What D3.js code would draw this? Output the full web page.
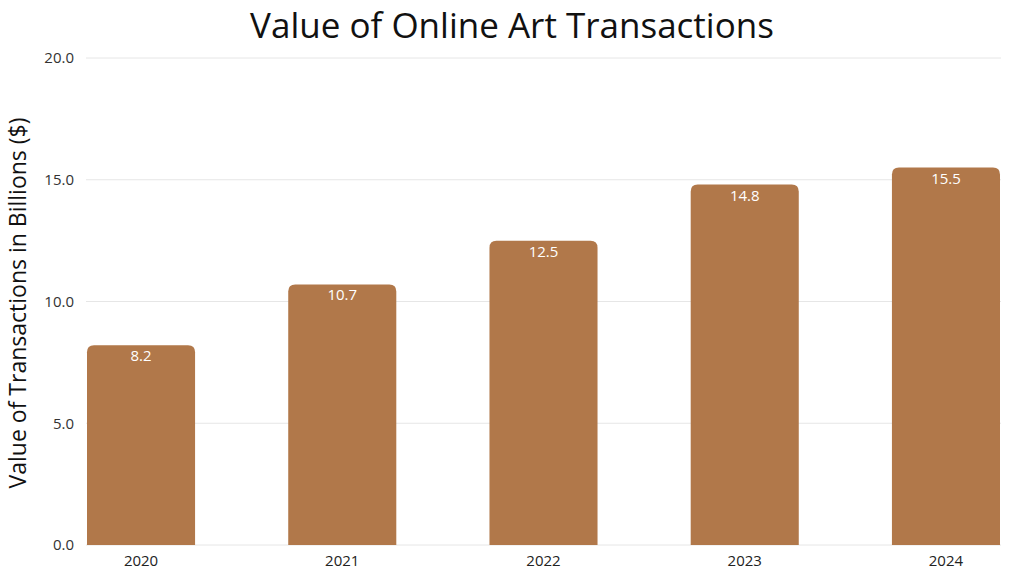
<!DOCTYPE html>
<html><head><meta charset="utf-8">
<script src="https://cdn.jsdelivr.net/npm/d3@7"></script>
<style>body{margin:0;background:#fff}svg{display:block;font-family:"Open Sans",Lato,sans-serif}</style>
</head><body><svg id="c" width="1024" height="576"></svg>
<script>
const years = ["2020","2021","2022","2023","2024"];
const values = [8.2, 10.7, 12.5, 14.8, 15.5];
const yTicks = [0, 5, 10, 15, 20];
const title = "Value of Online Art Transactions";
const yTitle = "Value of Transactions in Billions ($)";

const svg = d3.select("#c");
const m = {l: 86, r: 1001, t: 58, b: 545};
const x = d3.scaleBand().domain(years).range([m.l + 1, m.r - 1]).paddingInner(0.463).paddingOuter(0);
const y = d3.scaleLinear().domain([0, 20]).range([m.b, m.t]);

// grid
svg.append("g").selectAll("line").data(yTicks).join("line")
  .attr("x1", m.l).attr("x2", m.r).attr("y1", d => y(d)).attr("y2", d => y(d))
  .attr("stroke", "#e6e6e6").attr("stroke-width", 1);

// y labels
svg.append("g").selectAll("text").data(yTicks).join("text")
  .attr("x", 74).attr("y", d => y(d)).attr("dy", "0.35em").attr("text-anchor", "end")
  .attr("font-size", 15).attr("fill", "#333").text(d => d.toFixed(1));

// bars with rounded top corners
const r = 7;
svg.append("g").selectAll("path").data(values).join("path")
  .attr("fill", "#b1784a")
  .attr("d", (d, i) => {
    const x0 = x(years[i]), w = x.bandwidth(), y0 = y(d), yb = y(0);
    return `M${x0},${yb}V${y0 + r}Q${x0},${y0} ${x0 + r},${y0}H${x0 + w - r}Q${x0 + w},${y0} ${x0 + w},${y0 + r}V${yb}Z`;
  });

// value labels
svg.append("g").selectAll("text").data(values).join("text")
  .attr("x", (d, i) => x(years[i]) + x.bandwidth() / 2).attr("y", d => y(d) + 16)
  .attr("text-anchor", "middle").attr("font-size", 15).attr("fill", "#fff")
  .text(d => d.toFixed(1));

// x labels
svg.append("g").selectAll("text").data(years).join("text")
  .attr("x", d => x(d) + x.bandwidth() / 2).attr("y", 566)
  .attr("text-anchor", "middle").attr("font-size", 15).attr("fill", "#222").text(d => d);

// title
svg.append("text").attr("x", 512).attr("y", 38).attr("text-anchor", "middle")
  .attr("font-size", 35).attr("fill", "#111").text(title);

// y title
svg.append("text").attr("transform", "translate(26,303) rotate(-90)").attr("text-anchor", "middle")
  .attr("font-size", 23).attr("fill", "#111").text(yTitle);
</script></body></html>
